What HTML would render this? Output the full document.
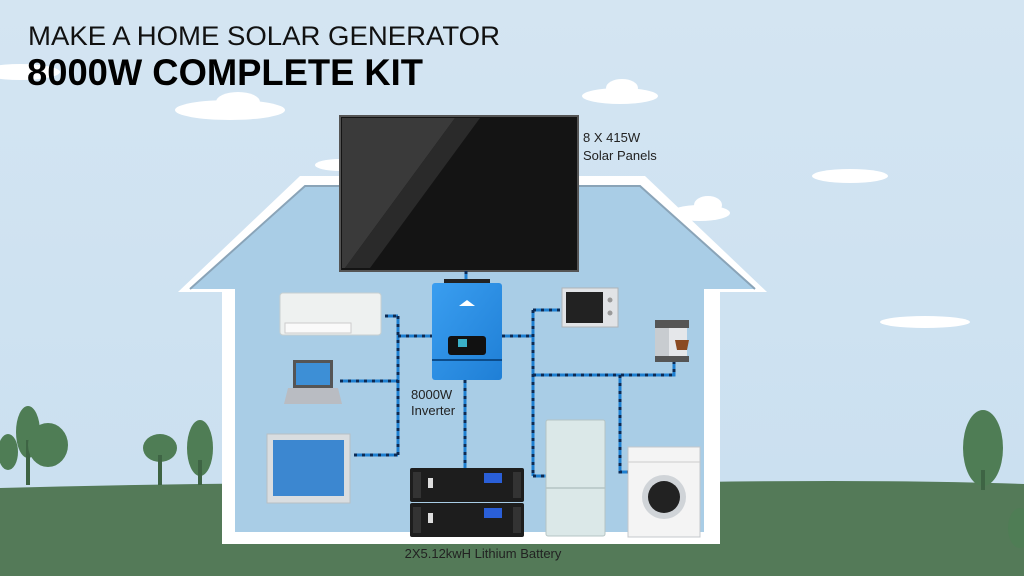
<!DOCTYPE html>
<html><head><meta charset="utf-8"><style>
html,body{margin:0;padding:0;width:1024px;height:576px;overflow:hidden;background:#d3e4f1}
svg{display:block}
text{font-family:"Liberation Sans",sans-serif}
</style></head><body>
<svg width="1024" height="576" viewBox="0 0 1024 576" xmlns="http://www.w3.org/2000/svg">
<defs>
<linearGradient id="sky" x1="0" y1="0" x2="0" y2="1"><stop offset="0" stop-color="#d4e5f2"/><stop offset="1" stop-color="#c9dff0"/></linearGradient>
<linearGradient id="inv" x1="0" y1="0" x2="1" y2="1"><stop offset="0" stop-color="#3a9ef0"/><stop offset="1" stop-color="#1f7fd6"/></linearGradient>
</defs>
<rect width="1024" height="576" fill="url(#sky)"/>
<g fill="#ffffff">
<ellipse cx="230" cy="110" rx="55" ry="10"/><ellipse cx="238" cy="102" rx="22" ry="10"/>
<ellipse cx="620" cy="96" rx="38" ry="8"/><ellipse cx="622" cy="88" rx="16" ry="9"/>
<ellipse cx="850" cy="176" rx="38" ry="7"/>
<ellipse cx="925" cy="322" rx="45" ry="6"/>
<ellipse cx="700" cy="213" rx="30" ry="8"/><ellipse cx="708" cy="205" rx="14" ry="9"/>
<ellipse cx="20" cy="72" rx="40" ry="8"/>
<ellipse cx="340" cy="165" rx="25" ry="6"/>
</g>
<path d="M0 488 Q300 480 600 484 Q850 478 1024 484 L1024 576 L0 576Z" fill="#547a58"/>
<g fill="#4f7d55">
<ellipse cx="28" cy="432" rx="12" ry="26"/><rect x="26" y="440" width="4" height="45" fill="#3e6444"/>
<ellipse cx="48" cy="445" rx="20" ry="22"/><ellipse cx="160" cy="448" rx="17" ry="14"/><rect x="158" y="455" width="4" height="30" fill="#3e6444"/>
<ellipse cx="200" cy="448" rx="13" ry="28"/><rect x="198" y="460" width="4" height="25" fill="#3e6444"/>
<ellipse cx="8" cy="452" rx="10" ry="18"/>
<ellipse cx="983" cy="448" rx="20" ry="38"/><rect x="981" y="470" width="4" height="20" fill="#3e6444"/>
<ellipse cx="1020" cy="528" rx="12" ry="20"/>
</g>
<path d="M178 292 L300 176 L645 176 L767 292 L720 292 L720 544 L222 544 L222 292Z" fill="#ffffff"/>
<path d="M190 289 L305 186 L640 186 L755 289 L704 289 L704 532 L235 532 L235 289Z" fill="#a9cde6"/>
<path d="M190 289 L305 186 L640 186 L755 289" fill="none" stroke="#8aa4b8" stroke-width="2"/>
<text x="28" y="45" font-size="27" fill="#111" textLength="472" lengthAdjust="spacingAndGlyphs">MAKE A HOME SOLAR GENERATOR</text>
<text x="27" y="85" font-size="37" font-weight="bold" fill="#000" textLength="396" lengthAdjust="spacingAndGlyphs">8000W COMPLETE KIT</text>
<rect x="340" y="116" width="238" height="155" fill="#141414"/>
<polygon points="342,118 455,118 345,268 342,268" fill="#3a3a3a"/>
<polygon points="455,118 480,118 370,268 345,268" fill="#2a2a2a"/>
<rect x="340" y="116" width="238" height="155" fill="none" stroke="#555" stroke-width="2"/>
<text x="583" y="142" font-size="13" fill="#222">8 X 415W</text>
<text x="583" y="160" font-size="13" fill="#222">Solar Panels</text>
<g fill="none" stroke-width="3">
<g stroke="#1e7fd0">
<path d="M466 271 V283 M398 316 V455 M385 316 H398 M340 381 H398 M354 455 H398 M398 336 H432 M465 380 V468 M502 336 H533 M533 310 V476 M533 310 H560 M533 375 H674 V362 M620 375 V472 H628 M533 476 H546"/>
</g>
<g stroke="#0a2a55" stroke-dasharray="3 5">
<path d="M466 271 V283 M398 316 V455 M385 316 H398 M340 381 H398 M354 455 H398 M398 336 H432 M465 380 V468 M502 336 H533 M533 310 V476 M533 310 H560 M533 375 H674 V362 M620 375 V472 H628 M533 476 H546"/>
</g>
</g>
<rect x="444" y="279" width="46" height="6" fill="#222"/>
<rect x="432" y="283" width="70" height="97" rx="3" fill="url(#inv)"/>
<rect x="448" y="336" width="38" height="19" rx="3" fill="#111"/>
<rect x="458" y="339" width="9" height="8" fill="#3ab0c8"/>
<line x1="432" y1="360" x2="502" y2="360" stroke="#0c4c8a" stroke-width="2"/>
<path d="M459 306 l8 -6 l8 6z" fill="#fff"/>
<text x="411" y="399" font-size="13" fill="#222">8000W</text>
<text x="411" y="415" font-size="13" fill="#222">Inverter</text>
<g>
<rect x="410" y="468" width="114" height="34" rx="2" fill="#1d1d1d"/>
<rect x="410" y="503" width="114" height="34" rx="2" fill="#1d1d1d"/>
<rect x="484" y="473" width="18" height="10" fill="#2a5fd8"/>
<rect x="484" y="508" width="18" height="10" fill="#2a5fd8"/>
<rect x="428" y="478" width="5" height="10" fill="#ddd"/><rect x="428" y="513" width="5" height="10" fill="#ddd"/>
<rect x="413" y="472" width="8" height="26" fill="#333"/><rect x="513" y="472" width="8" height="26" fill="#333"/>
<rect x="413" y="507" width="8" height="26" fill="#333"/><rect x="513" y="507" width="8" height="26" fill="#333"/>
</g>
<text x="483" y="558" font-size="13" fill="#222" text-anchor="middle">2X5.12kwH Lithium Battery</text>
<rect x="280" y="293" width="101" height="42" rx="3" fill="#eef1f0" stroke="#c8d0d0"/>
<rect x="285" y="323" width="66" height="10" fill="#fafafa" stroke="#ccc"/>
<rect x="293" y="360" width="40" height="28" fill="#555"/><rect x="296" y="363" width="34" height="22" fill="#3d8fd6"/>
<polygon points="288,388 338,388 342,404 284,404" fill="#b9bcc2"/>
<rect x="267" y="434" width="83" height="69" fill="#d9dde0" stroke="#b8bec4"/>
<rect x="273" y="440" width="71" height="56" fill="#3c87d0"/>
<rect x="562" y="288" width="56" height="39" fill="#e1e3e6" stroke="#b0b4b8"/>
<rect x="566" y="292" width="37" height="31" fill="#222"/>
<circle cx="610" cy="300" r="2.5" fill="#999"/><circle cx="610" cy="313" r="2.5" fill="#999"/>
<rect x="655" y="320" width="34" height="8" fill="#555"/>
<rect x="655" y="328" width="14" height="30" fill="#c8ccd0"/>
<rect x="669" y="328" width="18" height="30" fill="#e5e7ea"/>
<rect x="655" y="356" width="34" height="6" fill="#555"/>
<path d="M675 340 h14 l-2 10 h-10z" fill="#8a4a22"/>
<rect x="546" y="420" width="59" height="116" rx="2" fill="#dbe8e8" stroke="#b5c4c4"/>
<line x1="546" y1="488" x2="605" y2="488" stroke="#b5c4c4" stroke-width="1.5"/>
<rect x="628" y="447" width="72" height="90" fill="#f4f4f4" stroke="#c4c8cc"/>
<line x1="628" y1="462" x2="700" y2="462" stroke="#ccc"/>
<circle cx="664" cy="497" r="22" fill="#d0d4d8"/><circle cx="664" cy="497" r="16" fill="#222"/>
</svg>
</body></html>
